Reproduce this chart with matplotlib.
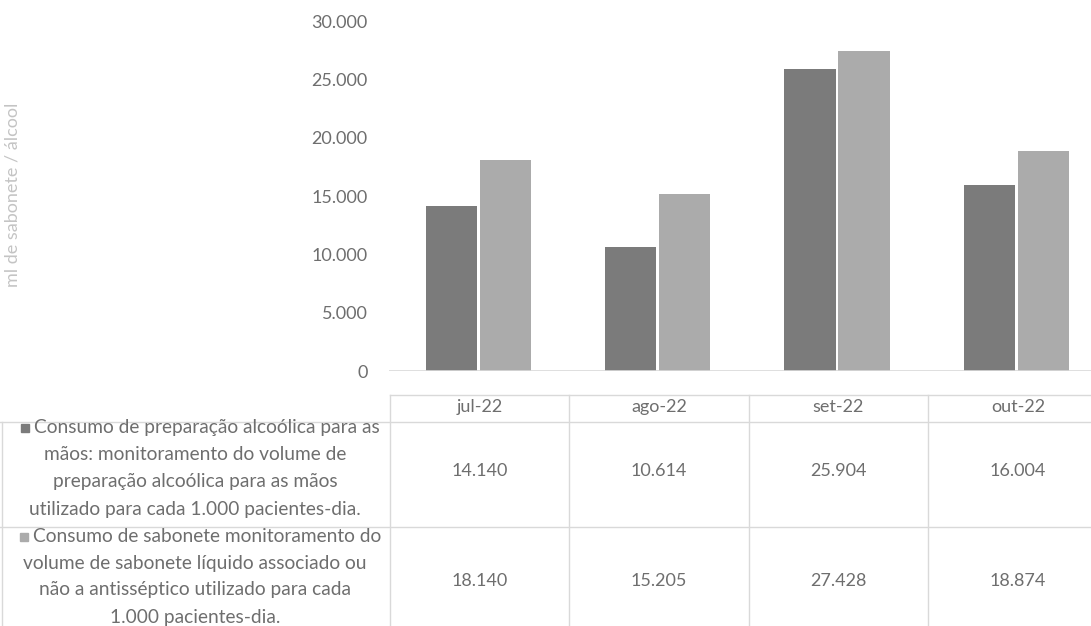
import matplotlib
matplotlib.use("Agg")
import matplotlib.pyplot as plt
from matplotlib.lines import Line2D
from matplotlib.patches import Rectangle
import numpy as np

W, H = 1091, 626

categories = ["jul-22", "ago-22", "set-22", "out-22"]
alcool = [14140, 10614, 25904, 16004]
sabonete = [18140, 15205, 27428, 18874]
series_labels = [
    ["Consumo de preparação alcoólica para as",
     "mãos: monitoramento do volume de",
     "preparação alcoólica para as mãos",
     "utilizado para cada 1.000 pacientes-dia."],
    ["Consumo de sabonete monitoramento do",
     "volume de sabonete líquido associado ou",
     "não a antisséptico utilizado para cada",
     "1.000 pacientes-dia."],
]
y_ticks = [0, 5000, 10000, 15000, 20000, 25000, 30000]
y_label = "ml de sabonete / álcool"

dark = "#7b7b7b"
light = "#ababab"
text_col = "#6e6e6e"
line_col = "#d9d9d9"
FONT = "Lato"

plt.rcParams["font.family"] = [FONT, "DejaVu Sans"]


def fx(x):
    return x / W


def fy(y):
    return 1 - y / H


fig = plt.figure(figsize=(W / 100, H / 100), dpi=100)

# plot area: x 388.5 .. 1091 px, y 21.5 .. 371 px
col_w = 179.4
left_px, right_px = 388.5, W
top_px, base_px = 21.5, 371
ax = fig.add_axes([fx(left_px), fy(base_px), (right_px - left_px) / W,
                   (base_px - top_px) / H])
ax.set_xlim(-0.5, -0.5 + (right_px - left_px) / col_w)
ax.set_ylim(0, 30000)

x = np.arange(len(categories))
bw = 0.285
gap = 0.008
ax.bar(x - bw / 2 - gap, alcool, bw, color=dark)
ax.bar(x + bw / 2 + gap, sabonete, bw, color=light)

for s in ax.spines.values():
    s.set_visible(False)
ax.axhline(0, color=line_col, lw=1.2)
ax.set_xticks([])
ax.set_yticks(y_ticks)
ax.set_yticklabels([f"{v:,}".replace(",", ".") for v in y_ticks])
ax.tick_params(axis="y", length=0, pad=15, labelsize=13, labelcolor=text_col)

fig.text(fx(13), fy(195), y_label, rotation=90, ha="center", va="center",
         fontsize=13, color="#c4c4c4")

# data table
col_edges = [390 + i * col_w for i in range(5)]
h_top, h_bot, r1_bot = 395, 422, 527
fig.add_artist(Line2D([fx(390), 1], [fy(h_top)] * 2, color=line_col, lw=1))
for yy in (h_bot, r1_bot):
    fig.add_artist(Line2D([0, 1], [fy(yy)] * 2, color=line_col, lw=1))
for xe in col_edges[:4]:
    fig.add_artist(Line2D([fx(xe)] * 2, [fy(h_top), 0], color=line_col, lw=1))
fig.add_artist(Line2D([fx(2)] * 2, [fy(h_bot), 0], color=line_col, lw=1))

for i, cat in enumerate(categories):
    cx = col_edges[i] + col_w / 2
    fig.text(fx(cx), fy(407), cat, ha="center", va="center",
             fontsize=13, color=text_col)
    for vals, yy in ((alcool, 471), (sabonete, 581)):
        fig.text(fx(cx), fy(yy), f"{vals[i]:,}".replace(",", "."),
                 ha="center", va="center", fontsize=13, color=text_col)

renderer = fig.canvas.get_renderer()
row_line_y = [[428, 455, 482, 510], [537, 563, 590, 617]]
for lines, ys, colr in zip(series_labels, row_line_y, (dark, light)):
    for j, (ln, yy) in enumerate(zip(lines, ys)):
        cx = 207 if j == 0 else 195
        t = fig.text(fx(cx), fy(yy), ln, ha="center", va="center",
                     fontsize=13.8, color=text_col)
        if j == 0:
            bb = t.get_window_extent(renderer)
            sq = 8
            fig.add_artist(Rectangle((fx(bb.x0 - sq - 5), fy(yy) - sq / 2 / H),
                                     sq / W, sq / H, color=colr,
                                     transform=fig.transFigure))

fig.savefig("out.png", dpi=100)
